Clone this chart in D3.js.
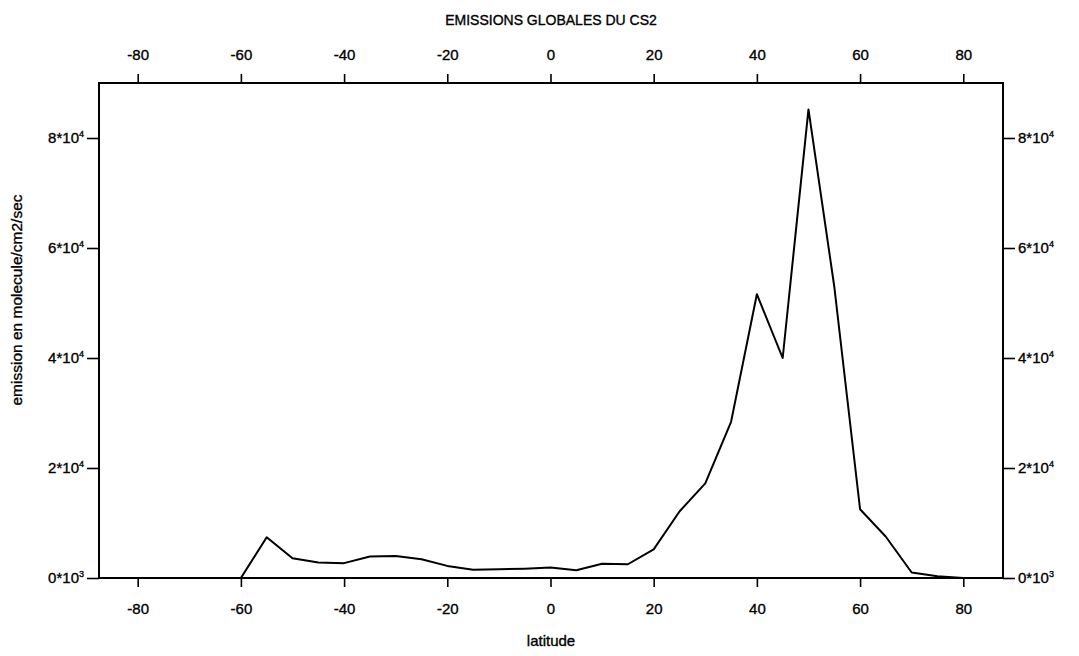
<!DOCTYPE html>
<html>
<head>
<meta charset="utf-8">
<script src="https://cdn.jsdelivr.net/npm/d3@7"></script>
<style>
  body { margin: 0; background: #fff; }
  text { font-family: "Liberation Sans", Arial, sans-serif; fill: #000; stroke: #000; stroke-width: 0.35; }
</style>
</head>
<body>
<div id="chart"></div>
<script>
// latitude (deg) and CS2 emission (molecule/cm2/sec)
const latitude = [-90, -85, -80, -75, -70, -65, -60, -55, -50, -45, -40, -35, -30, -25, -20, -15, -10, -5,
  0, 5, 10, 15, 20, 25, 30, 35, 40, 45, 50, 55, 60, 65, 70, 75, 80, 85, 90];
const emission = [0, 0, 0, 0, 0, 0, 0, 7400, 3600, 2800, 2700, 3900, 4000, 3400, 2200, 1500, 1600, 1700,
  1900, 1400, 2600, 2500, 5200, 12100, 17200, 28400, 51600, 40000, 85200, 53000, 12500, 7500, 1000, 300, 0, 0, 0];

const xTicks = [-80, -60, -40, -20, 0, 20, 40, 60, 80];
const yTicks = [0, 20000, 40000, 60000, 80000];
const yTickLabels = [["0", "3"], ["2", "4"], ["4", "4"], ["6", "4"], ["8", "4"]];

const width = 1079, height = 656;
const margin = { top: 83, right: 76, bottom: 78, left: 99 };

const svg = d3.select("#chart")
  .append("svg")
  .attr("width", width)
  .attr("height", height);

const x = d3.scaleLinear()
  .domain([-87.5, 87.7])
  .range([margin.left, width - margin.right]);

const y = d3.scaleLinear()
  .domain([0, 90000])
  .range([height - margin.bottom, margin.top]);

svg.append("defs").append("clipPath")
  .attr("id", "clip")
  .append("rect")
  .attr("x", margin.left)
  .attr("y", margin.top)
  .attr("width", width - margin.left - margin.right)
  .attr("height", height - margin.top - margin.bottom);

// frame
svg.append("rect")
  .attr("x", margin.left)
  .attr("y", margin.top)
  .attr("width", width - margin.left - margin.right)
  .attr("height", height - margin.top - margin.bottom)
  .attr("fill", "none")
  .attr("stroke", "#000")
  .attr("stroke-width", 2);

function styleAxis(g) {
  g.select(".domain").remove();
  g.selectAll(".tick line").attr("stroke", "#000").attr("stroke-width", 1.6);
  g.selectAll(".tick text").attr("font-size", 15).attr("fill", "#000");
}

// x axes (bottom + top), plain hyphen for negatives
const fmt = d => String(d);

svg.append("g")
  .attr("transform", `translate(0,${height - margin.bottom})`)
  .call(d3.axisBottom(x).tickValues(xTicks).tickSize(9).tickPadding(16).tickFormat(fmt))
  .call(styleAxis);

svg.append("g")
  .attr("transform", `translate(0,${margin.top})`)
  .call(d3.axisTop(x).tickValues(xTicks).tickSize(9).tickPadding(14).tickFormat(fmt))
  .call(styleAxis);

// y axes (left + right) with "n*10^k" labels
function yLabels(g) {
  g.selectAll(".tick text").each(function (d, i) {
    const t = d3.select(this).text("");
    t.append("tspan").text(yTickLabels[i][0] + "*10");
    t.append("tspan").attr("dy", -6).attr("font-size", 9).text(yTickLabels[i][1]);
  });
}

svg.append("g")
  .attr("transform", `translate(${margin.left},0)`)
  .call(d3.axisLeft(y).tickValues(yTicks).tickSize(12).tickPadding(3))
  .call(styleAxis)
  .call(yLabels);

svg.append("g")
  .attr("transform", `translate(${width - margin.right},0)`)
  .call(d3.axisRight(y).tickValues(yTicks).tickSize(12).tickPadding(3))
  .call(styleAxis)
  .call(yLabels);

// data line
const line = d3.line()
  .x((d, i) => x(latitude[i]))
  .y(d => y(d));

svg.append("path")
  .datum(emission)
  .attr("clip-path", "url(#clip)")
  .attr("fill", "none")
  .attr("stroke", "#000")
  .attr("stroke-width", 2)
  .attr("stroke-linejoin", "round")
  .attr("d", line);

// titles
svg.append("text")
  .attr("x", 551)
  .attr("y", 25)
  .attr("text-anchor", "middle")
  .attr("font-size", 14)
  .text("EMISSIONS GLOBALES DU CS2");

svg.append("text")
  .attr("x", 551)
  .attr("y", 646)
  .attr("text-anchor", "middle")
  .attr("font-size", 15)
  .text("latitude");

svg.append("text")
  .attr("transform", "translate(22,300) rotate(-90)")
  .attr("text-anchor", "middle")
  .attr("font-size", 15.5)
  .text("emission en molecule/cm2/sec");
</script>
</body>
</html>
